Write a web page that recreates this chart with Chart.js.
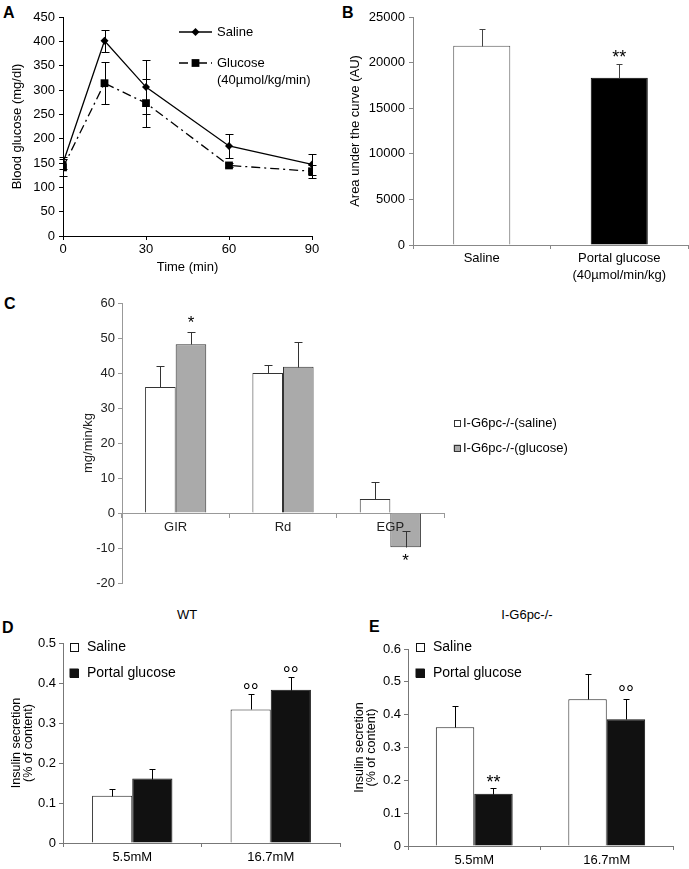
<!DOCTYPE html>
<html>
<head>
<meta charset="utf-8">
<script src="https://cdn.jsdelivr.net/npm/chart.js@4.4.1/dist/chart.umd.min.js"></script>
<style>
  body { margin: 0; background: #fff; width: 689px; height: 869px; position: relative; overflow: hidden;
         font-family: "Liberation Sans", Arial, Helvetica, sans-serif; color: #000; }
  canvas { position: absolute; }
  .tag { position: absolute; font-weight: bold; font-size: 16px; line-height: 16px; }
  .ttl { position: absolute; font-size: 13px; line-height: 14px; width: 120px; text-align: center; color: #000; }
</style>
</head>
<body>
<div class="tag" style="left:3px;top:5px">A</div>
<div class="tag" style="left:342px;top:5px">B</div>
<div class="tag" style="left:4px;top:296px">C</div>
<div class="tag" style="left:2px;top:620px">D</div>
<div class="tag" style="left:369px;top:619px">E</div>
<div class="ttl" style="left:127px;top:608px">WT</div>
<div class="ttl" style="left:467px;top:608px">I-G6pc-/-</div>

<canvas id="chartA" width="330" height="290" style="left:0;top:0"></canvas>
<canvas id="chartB" width="349" height="300" style="left:340px;top:0"></canvas>
<canvas id="chartC" width="689" height="320" style="left:0;top:290px"></canvas>
<canvas id="chartD" width="345" height="269" style="left:0;top:600px"></canvas>
<canvas id="chartE" width="349" height="269" style="left:340px;top:600px"></canvas>

<script>
"use strict";
// A - blood glucose during the tolerance test
const timePoints = [0, 15, 30, 60, 90];
const salineGlucose = [150, 401, 306, 185, 147];
const salineGlucoseErr = [13, 23, 56, 25, 21];
const portalGlucose = [141, 314, 273, 145, 133];
const portalGlucoseErr = [17, 43, 49, 4, 13];

// B - area under the curve
const aucLabels = ["Saline", ["Portal glucose", "(40µmol/min/kg)"]];
const aucValues = [21850, 18350];
const aucErr = [1800, 1550];

// C - glucose fluxes
const fluxLabels = ["GIR", "Rd", "EGP"];
const fluxSaline = [36, 40, 4];
const fluxSalineErr = [6, 2.3, 5];
const fluxGlucose = [48.2, 41.8, -9.8];
const fluxGlucoseErr = [3.4, 7, 4.8];

// D / E - insulin secretion
const concLabels = ["5.5mM", "16.7mM"];
const wtSaline = [0.118, 0.334];
const wtSalineErr = [0.017, 0.038];
const wtPortal = [0.161, 0.383];
const wtPortalErr = [0.024, 0.031];
const koSaline = [0.362, 0.447];
const koSalineErr = [0.065, 0.078];
const koPortal = [0.159, 0.386];
const koPortalErr = [0.019, 0.063];

Chart.defaults.font.family = '"Liberation Sans", Arial, Helvetica, sans-serif';
Chart.defaults.font.size = 13;
Chart.defaults.color = "#000";
Chart.defaults.animation = false;
Chart.defaults.responsive = false;
Chart.defaults.events = [];
Chart.defaults.plugins.legend.display = false;
Chart.defaults.plugins.tooltip.enabled = false;

// error bars: only the "plus" side unless bothWays is set
const errorBars = {
    id: "errorBars",
    afterDraw(chart) {
        const ctx = chart.ctx;
        chart.data.datasets.forEach((ds, i) => {
            if (!ds.errors) return;
            const meta = chart.getDatasetMeta(i);
            const yScale = chart.scales[meta.yAxisID];
            const cap = ds.capWidth || 6;
            ctx.save();
            ctx.strokeStyle = ds.errorColor || "#000";
            ctx.lineWidth = 1;
            meta.data.forEach((el, j) => {
                const raw = ds.data[j];
                const v = typeof raw === "object" ? raw.y : raw;
                const e = ds.errors[j];
                const x = Math.round(el.x) + 0.5;
                const top = Math.round(yScale.getPixelForValue(v + e)) + 0.5;
                const bot = Math.round(yScale.getPixelForValue(ds.bothWays ? v - e : v)) + 0.5;
                ctx.beginPath();
                ctx.moveTo(x, top);
                ctx.lineTo(x, bot);
                ctx.moveTo(x - cap / 2, top);
                ctx.lineTo(x + cap / 2, top);
                if (ds.bothWays) {
                    ctx.moveTo(x - cap / 2, bot);
                    ctx.lineTo(x + cap / 2, bot);
                }
                ctx.stroke();
            });
            ctx.restore();
        });
    },
};

// significance marks (*, °°) placed over a bar at a given value
function makeMarks(list) {
    return {
        id: "marks",
        afterDraw(chart) {
            const ctx = chart.ctx;
            ctx.save();
            ctx.fillStyle = "#000";
            ctx.textAlign = "center";
            ctx.textBaseline = "alphabetic";
            list.forEach((m) => {
                const el = chart.getDatasetMeta(m.ds).data[m.idx];
                const y = chart.scales.y.getPixelForValue(m.value);
                ctx.font = m.size + 'px "Liberation Sans", Arial, sans-serif';
                ctx.fillText(m.text, el.x, y + m.size * 0.57);
            });
            ctx.restore();
        },
    };
}

// hand placed legends (canvas pixel positions)
function makeLegend(items, fontSize) {
    return {
        id: "panelLegend",
        afterDraw(chart) {
            const ctx = chart.ctx;
            ctx.save();
            ctx.font = fontSize + 'px "Liberation Sans", Arial, sans-serif';
            ctx.textBaseline = "middle";
            items.forEach((it) => {
                if (it.box) {
                    const s = it.box;
                    ctx.fillStyle = it.fill;
                    ctx.fillRect(it.x - s / 2, it.y - s / 2, s, s);
                    ctx.strokeStyle = it.stroke || "#000";
                    ctx.lineWidth = 1;
                    ctx.strokeRect(Math.round(it.x - s / 2) + 0.5, Math.round(it.y - s / 2) + 0.5, s - 1, s - 1);
                } else {
                    ctx.strokeStyle = "#000";
                    ctx.lineWidth = 1.3;
                    ctx.setLineDash(it.dash || []);
                    ctx.beginPath();
                    ctx.moveTo(it.x, it.y);
                    ctx.lineTo(it.x + it.len, it.y);
                    ctx.stroke();
                    ctx.setLineDash([]);
                    ctx.fillStyle = "#000";
                    Chart.helpers.drawPoint(ctx, { pointStyle: it.point, radius: it.radius, rotation: 0, borderWidth: 0 }, it.x + it.len / 2, it.y);
                }
                ctx.fillStyle = "#000";
                const lines = Array.isArray(it.text) ? it.text : [it.text];
                lines.forEach((t, k) => ctx.fillText(t, it.tx, it.y + k * 17));
            });
            ctx.restore();
        },
    };
}

function axisStyle(color, extra) {
    return Object.assign({
        grid: { drawOnChartArea: false, color: color, tickLength: 4 },
        border: { color: color },
    }, extra);
}

// ---------- A ----------
new Chart(document.getElementById("chartA"), {
    type: "line",
    data: {
        datasets: [
            {
                label: "Saline",
                data: timePoints.map((t, i) => ({ x: t, y: salineGlucose[i] })),
                errors: salineGlucoseErr,
                bothWays: true,
                capWidth: 8,
                borderColor: "#000",
                backgroundColor: "#000",
                borderWidth: 1.3,
                pointStyle: "rectRot",
                pointRadius: 4,
                pointBorderWidth: 0,
            },
            {
                label: "Glucose (40µmol/kg/min)",
                data: timePoints.map((t, i) => ({ x: t, y: portalGlucose[i] })),
                errors: portalGlucoseErr,
                bothWays: true,
                capWidth: 8,
                borderColor: "#000",
                backgroundColor: "#000",
                borderWidth: 1.3,
                borderDash: [9, 4, 2, 4],
                pointStyle: "rect",
                pointRadius: 5.5,
                pointBorderWidth: 0,
            },
        ],
    },
    options: {
        layout: { padding: { left: 10, top: 17, right: 18, bottom: 15 } },
        scales: {
            x: axisStyle("#000", {
                type: "linear",
                min: 0,
                max: 90,
                ticks: { stepSize: 30, padding: 2 },
                title: { display: true, text: "Time (min)", padding: 0 },
                afterFit: (s) => { s.height = 39; },
            }),
            y: axisStyle("#000", {
                min: 0,
                max: 450,
                ticks: { stepSize: 50, padding: 4 },
                title: { display: true, text: "Blood glucose (mg/dl)", padding: 0 },
                afterFit: (s) => { s.width = 53; },
            }),
        },
    },
    plugins: [errorBars, makeLegend([
        { x: 179, y: 32, len: 33, point: "rectRot", radius: 4, tx: 217, text: "Saline" },
        { x: 179, y: 63, len: 33, point: "rect", radius: 5.5, dash: [9, 4, 2, 4], tx: 217, text: ["Glucose", "(40µmol/kg/min)"] },
    ], 13)],
});

// ---------- B ----------
new Chart(document.getElementById("chartB"), {
    type: "bar",
    data: {
        labels: aucLabels,
        datasets: [{
            data: aucValues,
            errors: aucErr,
            errorColor: "#444",
            backgroundColor: ["#fff", "#000"],
            borderColor: ["#555", "#000"],
            borderWidth: 1,
            borderSkipped: "start",
            categoryPercentage: 0.415,
            barPercentage: 1,
        }],
    },
    options: {
        layout: { padding: { left: 8, top: 17, right: 1, bottom: 0 } },
        scales: {
            x: axisStyle("#888", {
                ticks: { padding: 0, font: { lineHeight: 1.38 } },
                afterFit: (s) => { s.height = 55; },
            }),
            y: axisStyle("#888", {
                min: 0,
                max: 25000,
                ticks: { stepSize: 5000, padding: 4, callback: (v) => String(v) },
                title: { display: true, text: "Area under the curve (AU)", padding: 0 },
                afterFit: (s) => { s.width = 65; },
            }),
        },
    },
    plugins: [errorBars, makeMarks([{ ds: 0, idx: 1, text: "**", value: 21050, size: 18 }])],
});

// ---------- C ----------
new Chart(document.getElementById("chartC"), {
    type: "bar",
    data: {
        labels: fluxLabels,
        datasets: [
            {
                label: "I-G6pc-/-(saline)",
                data: fluxSaline,
                errors: fluxSalineErr,
                errorColor: "#333",
                capWidth: 8,
                backgroundColor: "#fff",
                borderColor: "#333",
                borderWidth: 1,
                categoryPercentage: 0.57,
                barPercentage: 1,
            },
            {
                label: "I-G6pc-/-(glucose)",
                data: fluxGlucose,
                errors: fluxGlucoseErr,
                errorColor: "#333",
                capWidth: 8,
                backgroundColor: "#aaaaaa",
                borderColor: "#333",
                borderWidth: 1,
                categoryPercentage: 0.57,
                barPercentage: 1,
            },
        ],
    },
    options: {
        layout: { padding: { left: 81, top: 13, right: 245, bottom: 27 } },
        scales: {
            x: axisStyle("#999", {
                position: { y: 0 },
                ticks: { padding: 3, color: "#222", z: 1 },
            }),
            y: axisStyle("#999", {
                min: -20,
                max: 60,
                ticks: { stepSize: 10, padding: 3, color: "#222" },
                title: { display: true, text: "mg/min/kg", padding: 0, color: "#222" },
                afterFit: (s) => { s.width = 41; },
            }),
        },
    },
    plugins: [errorBars,
        makeMarks([
            { ds: 1, idx: 0, text: "*", value: 55.5, size: 17 },
            { ds: 1, idx: 2, text: "*", value: -12.4, size: 17 },
        ]),
        makeLegend([
            { x: 457, y: 133, box: 7, fill: "#fff", stroke: "#333", tx: 463, text: "I-G6pc-/-(saline)" },
            { x: 457, y: 158, box: 7, fill: "#aaaaaa", stroke: "#333", tx: 463, text: "I-G6pc-/-(glucose)" },
        ], 13)],
});

// ---------- D / E ----------
function insulinChart(id, saline, salineErr, portal, portalErr, yMax, padding, yWidth, marks, legendX) {
    return new Chart(document.getElementById(id), {
        type: "bar",
        data: {
            labels: concLabels,
            datasets: [
                {
                    label: "Saline",
                    data: saline,
                    errors: salineErr,
                    backgroundColor: "#fff",
                    borderColor: "#222",
                    borderWidth: 1,
                    categoryPercentage: 0.58,
                    barPercentage: 1,
                },
                {
                    label: "Portal glucose",
                    data: portal,
                    errors: portalErr,
                    backgroundColor: "#111",
                    borderColor: "#111",
                    borderWidth: 1,
                    categoryPercentage: 0.58,
                    barPercentage: 1,
                },
            ],
        },
        options: {
            layout: { padding: padding },
            scales: {
                x: axisStyle("#777", {
                    ticks: { padding: 3 },
                    afterFit: (s) => { s.height = padding.xHeight; },
                }),
                y: axisStyle("#777", {
                    min: 0,
                    max: yMax,
                    ticks: { stepSize: 0.1, padding: 3 },
                    title: { display: true, text: ["Insulin secretion", "(% of content)"], padding: 0, font: { size: 12.5, lineHeight: 0.95 } },
                    afterFit: (s) => { s.width = yWidth; },
                }),
            },
        },
        plugins: [errorBars, makeMarks(marks), makeLegend([
            { x: legendX, y: 47, box: 9, fill: "#fff", stroke: "#111", tx: legendX + 13, text: "Saline" },
            { x: legendX, y: 73, box: 9, fill: "#111", stroke: "#111", tx: legendX + 13, text: "Portal glucose" },
        ], 14)],
    });
}

insulinChart("chartD", wtSaline, wtSalineErr, wtPortal, wtPortalErr, 0.5,
    { left: 11, top: 43, right: 5, bottom: 0, xHeight: 26 }, 52,
    [
        { ds: 0, idx: 1, text: "°°", value: 0.392, size: 20 },
        { ds: 1, idx: 1, text: "°°", value: 0.434, size: 20 },
    ], 74);

insulinChart("chartE", koSaline, koSalineErr, koPortal, koPortalErr, 0.6,
    { left: 14, top: 49, right: 16, bottom: 0, xHeight: 23 }, 54,
    [
        { ds: 1, idx: 0, text: "**", value: 0.208, size: 18 },
        { ds: 1, idx: 1, text: "°°", value: 0.48, size: 20 },
    ], 80);
</script>
</body>
</html>
